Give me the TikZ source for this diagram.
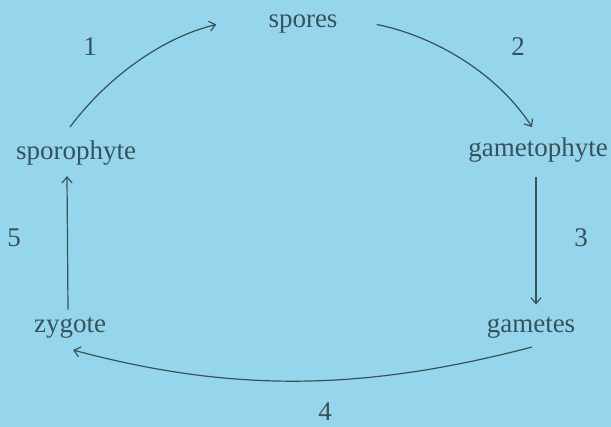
\documentclass[tikz,border=0pt]{standalone}
\usepackage{fontspec}
\setmainfont{Liberation Serif}
\usepackage{tikz}
\usetikzlibrary{arrows.meta}

\definecolor{paper}{RGB}{149,214,236}
\definecolor{ink}{RGB}{55,82,92}

\begin{document}
\begin{tikzpicture}[x=1pt,y=-1pt,font=\fontsize{27}{32}\selectfont,
    stage/.style={inner sep=0pt,anchor=base,text=ink},
    cyc/.style={ink,line width=1.2pt,-{Straight Barb[length=6pt,width=10pt]}}]
  % page, same size as the scan
  \fill[paper] (0,0) rectangle (611,427);
  \useasboundingbox (0,0) rectangle (611,427);
  % life stages
  \node[stage] (spores) at (303,28) {spores};
  \node[stage] (sporo) at (76,160) {sporophyte};
  \node[stage] (gameto) at (538,157) {gametophyte};
  \node[stage] (gametes) at (531,333) {gametes};
  \node[stage] (zygote) at (70,333) {zygote};
  % step numbers
  \node[stage] (n1) at (90,56) {1};
  \node[stage] (n2) at (518,56) {2};
  \node[stage] (n3) at (581,247) {3};
  \node[stage] (n4) at (325,421) {4};
  \node[stage] (n5) at (14,247) {5};
  % the cycle
  \draw[cyc] ([xshift=-6pt,yshift=14pt]sporo.north)
    .. controls (105,80) and (160,38) .. ([xshift=-52pt]spores.west);
  \draw[cyc] ([xshift=39pt]spores.east)
    .. controls (430,35) and (495,70) .. ([xshift=-6pt,yshift=11pt]gameto.north);
  \draw[cyc] ([xshift=-2pt,yshift=-14pt]gameto.south)
    -- ([xshift=5pt,yshift=13pt]gametes.north);
  \draw[cyc] ([xshift=1pt,yshift=-8pt]gametes.south)
    .. controls (360,392) and (230,392) .. ([xshift=3pt,yshift=-11pt]zygote.south);
  \draw[cyc] ([xshift=-2pt,yshift=8pt]zygote.north)
    -- ([xshift=-9pt,yshift=-10pt]sporo.south);
\end{tikzpicture}
\end{document}
